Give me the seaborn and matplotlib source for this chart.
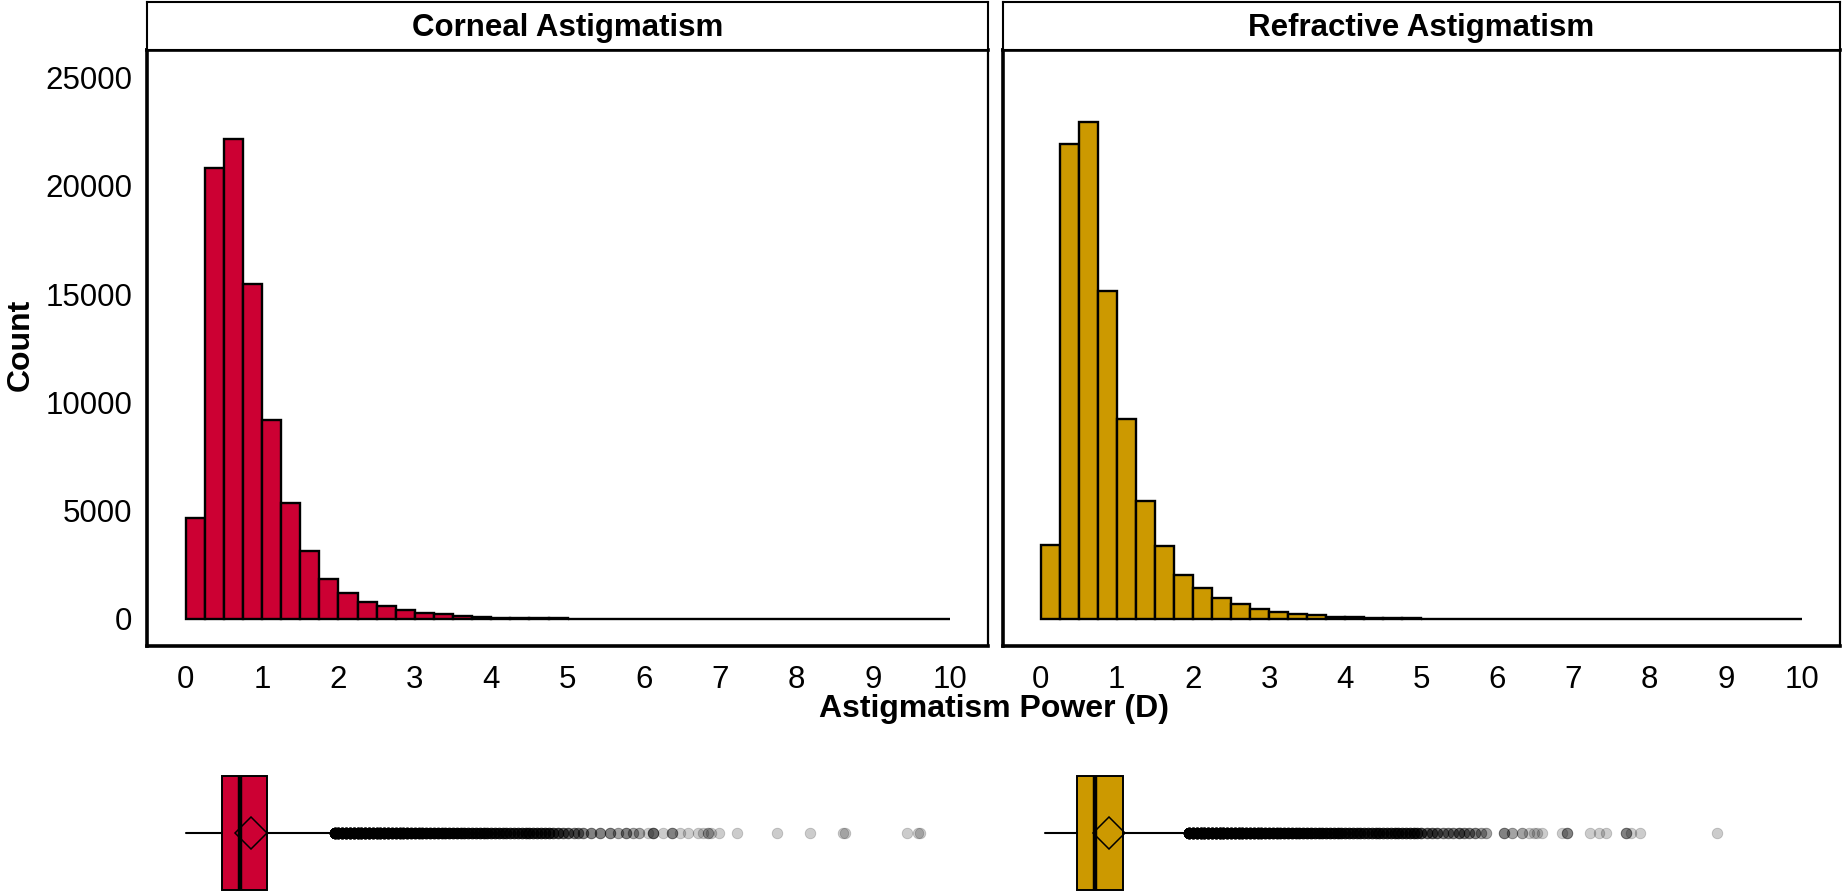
import numpy as np
import pandas as pd
import seaborn as sns
import matplotlib.pyplot as plt

# histogram: 0.25 D bins from 0 to 10
BIN_WIDTH = 0.25
PANELS = ["Corneal Astigmatism", "Refractive Astigmatism"]
COLORS = ["#CC0033", "#CC9900"]

CORNEAL_COUNTS = [
    4660, 20840, 22170, 15480, 9190, 5370, 3120, 1830, 1210, 800,
    590, 410, 285, 210, 130, 85, 60, 42, 30, 22,
    15, 10, 7, 5, 3, 3, 3, 3, 1, 0,
    1, 0, 1, 0, 2, 0, 0, 1, 2, 0,
]
REFRACTIVE_COUNTS = [
    3420, 21950, 22930, 15160, 9240, 5460, 3390, 2040, 1420, 975,
    710, 460, 320, 230, 165, 110, 75, 50, 35, 25,
    18, 12, 8, 6, 4, 4, 3, 3, 2, 3,
    4, 0, 0, 0, 0, 1, 0, 0, 0, 0,
]

# boxplot summaries (D)
CORNEAL_BOX = {"whislo": 0.01, "q1": 0.472, "med": 0.712, "q3": 1.062, "whishi": 1.92, "mean": 0.853}
REFRACTIVE_BOX = {"whislo": 0.06, "q1": 0.473, "med": 0.714, "q3": 1.085, "whishi": 1.90, "mean": 0.897}

# outliers: value and number of eyes at that value
CORNEAL_OUT_X = [
    1.95, 2.00, 2.05, 2.10, 2.15, 2.20, 2.25, 2.30, 2.35, 2.40, 2.45, 2.50,
    2.55, 2.60, 2.65, 2.70, 2.75, 2.80, 2.85, 2.90, 2.95, 3.00, 3.05, 3.10,
    3.15, 3.20, 3.25, 3.30, 3.35, 3.40, 3.45, 3.50, 3.55, 3.60, 3.65, 3.70,
    3.75, 3.80, 3.85, 3.90, 3.95, 4.00, 4.05, 4.10, 4.15, 4.20, 4.25, 4.30,
    4.35, 4.40, 4.45, 4.50, 4.55, 4.60, 4.65, 4.70, 4.75, 4.81, 4.88, 4.94,
    5.01, 5.08, 5.14, 5.20, 5.31, 5.42, 5.55, 5.66, 5.77, 5.86, 5.94, 6.05,
    6.12, 6.25, 6.37, 6.47, 6.58, 6.71, 6.77, 6.84, 6.88, 6.98, 7.22, 7.74,
    8.17, 8.60, 8.63, 9.44, 9.58, 9.61,
]
CORNEAL_OUT_N = [
    30, 30, 30, 30, 30, 30, 30, 30, 30, 30, 25, 25,
    25, 25, 25, 20, 20, 20, 20, 20, 15, 15, 15, 15,
    12, 12, 12, 12, 10, 10, 10, 10, 10, 8, 8, 8,
    8, 8, 8, 8, 7, 7, 7, 7, 6, 6, 6, 6,
    6, 6, 6, 6, 6, 6, 6, 6, 6, 5, 5, 4,
    4, 3, 3, 3, 3, 3, 3, 2, 3, 2, 2, 1,
    4, 1, 3, 1, 1, 1, 1, 2, 1, 1, 1, 1,
    1, 1, 1, 1, 1, 1,
]
REFRACTIVE_OUT_X = [
    1.95, 2.00, 2.05, 2.10, 2.15, 2.20, 2.25, 2.30, 2.35, 2.40, 2.45, 2.50,
    2.55, 2.60, 2.65, 2.70, 2.75, 2.80, 2.85, 2.90, 2.95, 3.00, 3.05, 3.10,
    3.15, 3.20, 3.25, 3.30, 3.35, 3.40, 3.45, 3.50, 3.55, 3.60, 3.65, 3.70,
    3.75, 3.80, 3.85, 3.90, 3.95, 4.00, 4.05, 4.10, 4.15, 4.20, 4.25, 4.30,
    4.35, 4.40, 4.45, 4.50, 4.55, 4.60, 4.65, 4.70, 4.75, 4.80, 4.85, 4.90,
    4.95, 5.00, 5.07, 5.14, 5.21, 5.28, 5.35, 5.42, 5.49, 5.56, 5.63, 5.70,
    5.78, 5.85, 6.08, 6.19, 6.32, 6.41, 6.48, 6.52, 6.59, 6.85, 6.91, 7.22,
    7.33, 7.42, 7.69, 7.76, 7.87, 8.89,
]
REFRACTIVE_OUT_N = [
    30, 30, 30, 30, 30, 30, 30, 30, 30, 30, 25, 25,
    25, 25, 25, 20, 20, 20, 20, 20, 15, 15, 15, 15,
    12, 12, 12, 12, 10, 10, 10, 10, 10, 8, 8, 8,
    8, 8, 8, 8, 7, 7, 7, 7, 6, 6, 6, 6,
    6, 6, 6, 6, 6, 6, 6, 6, 6, 6, 6, 6,
    5, 5, 4, 4, 4, 3, 3, 3, 4, 3, 3, 3,
    2, 2, 3, 2, 2, 1, 1, 1, 1, 1, 3, 1,
    1, 1, 3, 1, 1, 1,
]

Y_TICKS = [0, 5000, 10000, 15000, 20000, 25000]
X_TICKS = list(range(0, 11))

W, H = 1842, 893
FS = 22.5


def px_axes(fig, left, top, right, bottom):
    return fig.add_axes([left / W, 1 - bottom / H, (right - left) / W, (bottom - top) / H])


def draw_hist(ax, counts, color, show_y):
    n_bins = len(counts)
    centers = (np.arange(n_bins) + 0.5) * BIN_WIDTH
    df = pd.DataFrame({"x": centers, "n": counts})
    sns.histplot(data=df, x="x", weights="n", binwidth=BIN_WIDTH,
                 binrange=(0, n_bins * BIN_WIDTH), ax=ax,
                 color=color, alpha=1, edgecolor="black", linewidth=1.7)
    ax.set_xlim(-0.5, 10.5)
    ax.set_ylim(-1250, 26250)
    ax.set_xticks(X_TICKS)
    ax.set_yticks(Y_TICKS)
    ax.set(xlabel="", ylabel="")
    ax.tick_params(axis="x", length=7, width=1.5, pad=7, labelsize=FS,
                   color="black", labelcolor="black")
    if show_y:
        ax.tick_params(axis="y", length=7, width=1.5, pad=4, labelsize=FS,
                       color="black", labelcolor="black")
    else:
        ax.tick_params(axis="y", left=False, labelleft=False)
    for side, lw in [("left", 2.6), ("bottom", 2.6), ("top", 2.6), ("right", 1.6)]:
        ax.spines[side].set_visible(True)
        ax.spines[side].set_color("black")
        ax.spines[side].set_linewidth(lw)


def draw_strip(ax, title):
    ax.set_xticks([])
    ax.set_yticks([])
    for s in ax.spines.values():
        s.set_visible(True)
        s.set_color("black")
        s.set_linewidth(1.5)
    ax.text(0.5, 0.46, title, ha="center", va="center", fontsize=FS,
            fontweight="bold", color="black", transform=ax.transAxes)


def draw_box(ax, box, out_x, out_n, color):
    stats = [dict(box, fliers=[])]
    ax.bxp(stats, positions=[0], widths=[1.0], orientation="horizontal",
           patch_artist=True, showcaps=False, showfliers=False, showmeans=True,
           boxprops=dict(facecolor=color, edgecolor="black", linewidth=1.4),
           medianprops=dict(color="black", linewidth=3.2, solid_capstyle="butt"),
           whiskerprops=dict(color="black", linewidth=1.5),
           meanprops=dict(marker="D", markerfacecolor="none", markeredgecolor="black",
                          markersize=16.5, markeredgewidth=1.1),
           manage_ticks=False)
    xs = np.repeat(out_x, out_n)
    sns.scatterplot(x=xs, y=np.zeros(len(xs)), ax=ax, color="black", alpha=0.2,
                    s=58, linewidth=0.6, edgecolor="black", legend=False)
    ax.set_xlim(-0.5, 10.5)
    ax.set_ylim(-0.52, 0.52)
    ax.axis("off")
    for a in ax.get_children():
        if hasattr(a, "set_clip_on"):
            a.set_clip_on(False)


def main():
    sns.set_theme(style="white")
    plt.rcParams["font.family"] = ["Liberation Sans", "DejaVu Sans"]
    plt.rcParams["text.color"] = "black"
    fig = plt.figure(figsize=(W / 100, H / 100), dpi=100)
    fig.patch.set_facecolor("white")

    cols = [(147.4, 987.8), (1002.6, 1840.0)]
    counts = [CORNEAL_COUNTS, REFRACTIVE_COUNTS]
    boxes = [CORNEAL_BOX, REFRACTIVE_BOX]
    outs = [(CORNEAL_OUT_X, CORNEAL_OUT_N), (REFRACTIVE_OUT_X, REFRACTIVE_OUT_N)]

    for i, (l, r) in enumerate(cols):
        ax = px_axes(fig, l, 50.4, r, 646)
        draw_hist(ax, counts[i], COLORS[i], show_y=(i == 0))
        st = px_axes(fig, l, 1.5, r, 50.4)
        draw_strip(st, PANELS[i])
        bx = px_axes(fig, l, 773.5, r, 892.5)
        draw_box(bx, boxes[i], outs[i][0], outs[i][1], COLORS[i])

    fig.text((147.4 + 1840) / 2 / W, 1 - 709 / H, "Astigmatism Power (D)",
             ha="center", va="center", fontsize=FS + 0.5, fontweight="bold",
             color="black")
    fig.text(21 / W, 1 - 345 / H, "Count", ha="center", va="center",
             rotation=90, fontsize=FS + 0.5, fontweight="bold", color="black")

    fig.savefig("out.png", dpi=100, facecolor="white")


if __name__ == "__main__":
    main()
